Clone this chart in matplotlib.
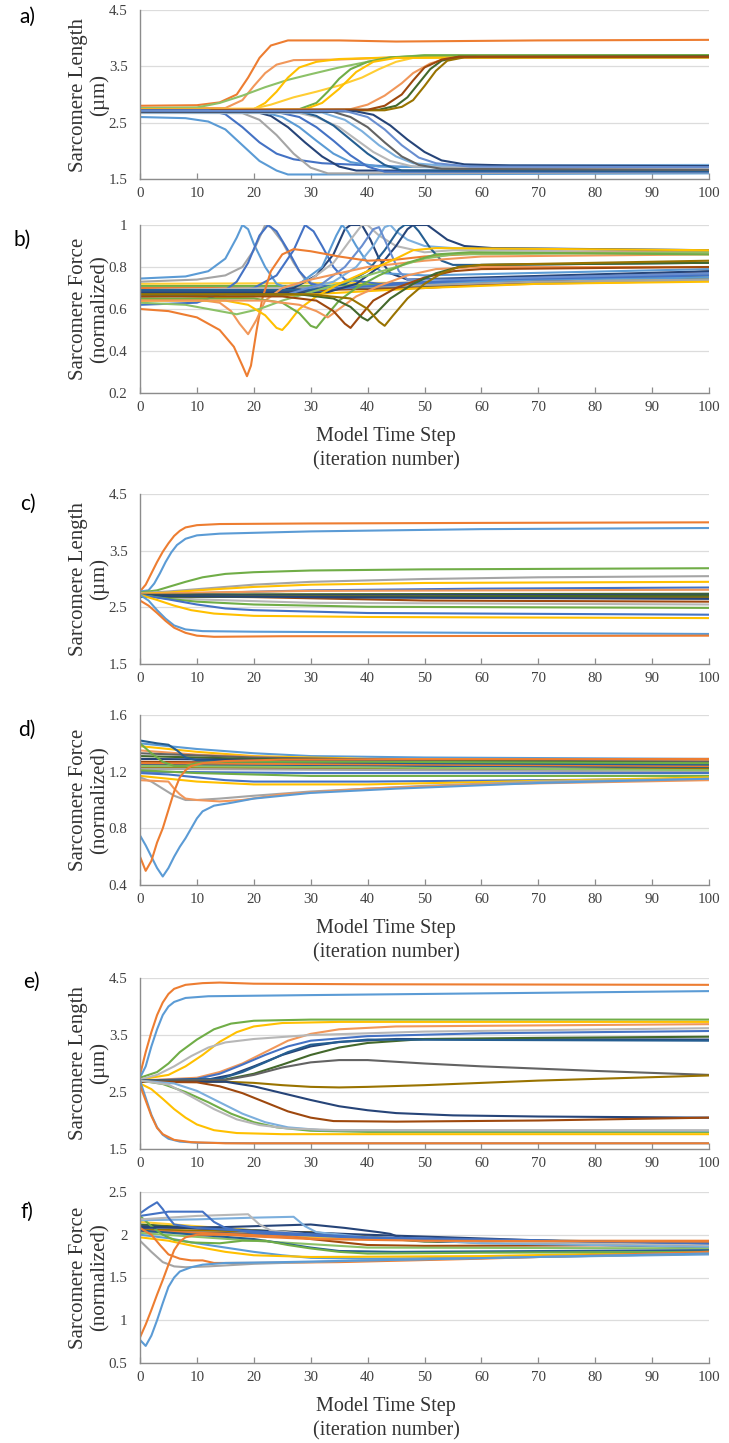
"""
Sarcomere length / force traces, six stacked panels (a-f).
Values are read off the reference figure as knot points per trace.
"""
import matplotlib
matplotlib.use("Agg")
import matplotlib.pyplot as plt

# Excel-like line palette
PAL = {
    "blue": "#5B9BD5", "orange": "#ED7D31", "gray": "#A5A5A5", "gold": "#FFC000",
    "dblue": "#4472C4", "green": "#70AD47", "blue2": "#255E91", "orange2": "#9E480E",
    "gray2": "#636363", "gold2": "#997300", "navy": "#264478", "green2": "#43682B",
    "lblue": "#7CAFDD", "lorange": "#F1975A", "lgray": "#B7B7B7", "lgold": "#FFCD33",
    "ldblue": "#698ED0", "lgreen": "#8CC168",
}

X_TICKS = list(range(0, 101, 10))
LEN_TICKS = [1.5, 2.5, 3.5, 4.5]

# ---- a) sarcomere length, slow transitions
A_LINES = [
    [(0, 2.80), (10, 2.81), (14, 2.86), (17, 3.0), (19, 3.3), (21, 3.65), (23, 3.87), (26, 3.96), (35, 3.96), (45, 3.94), (70, 3.96), (100, 3.97)],
    [(0, 2.76), (15, 2.76), (18, 2.9), (20, 3.15), (22, 3.38), (24, 3.53), (27, 3.61), (35, 3.62), (45, 3.66), (55, 3.67), (100, 3.67)],
    [(0, 2.76), (10, 2.77), (14, 2.85), (18, 2.98), (22, 3.13), (26, 3.26), (30, 3.36), (35, 3.48), (40, 3.58), (45, 3.66), (50, 3.70), (100, 3.70)],
    [(0, 2.74), (20, 2.74), (22, 2.85), (24, 3.05), (26, 3.3), (28, 3.48), (31, 3.58), (35, 3.63), (45, 3.66), (100, 3.66)],
    [(0, 2.74), (20, 2.75), (23, 2.82), (27, 2.95), (31, 3.05), (35, 3.16), (39, 3.3), (42, 3.45), (45, 3.58), (48, 3.65), (55, 3.67), (100, 3.67)],
    [(0, 2.73), (28, 2.74), (31, 2.85), (33, 3.05), (35, 3.28), (37, 3.45), (40, 3.58), (44, 3.66), (50, 3.69), (100, 3.70)],
    [(0, 2.74), (29, 2.74), (32, 2.85), (35, 3.1), (38, 3.4), (41, 3.58), (45, 3.65), (100, 3.66)],
    [(0, 2.73), (37, 2.74), (40, 2.82), (43, 2.98), (46, 3.2), (48, 3.38), (51, 3.55), (54, 3.64), (60, 3.67), (100, 3.67)],
    [(0, 2.72), (42, 2.73), (45, 2.8), (47, 2.95), (49, 3.2), (51, 3.45), (53, 3.6), (56, 3.67), (100, 3.68)],
    [(0, 2.70), (43, 2.72), (46, 2.78), (48, 2.9), (50, 3.15), (52, 3.42), (54, 3.6), (57, 3.66), (100, 3.66)],
    [(0, 2.72), (40, 2.73), (43, 2.8), (46, 3.0), (48, 3.25), (50, 3.48), (53, 3.62), (56, 3.67), (100, 3.67)],
    [(0, 2.60), (8, 2.58), (12, 2.52), (15, 2.38), (18, 2.1), (21, 1.82), (24, 1.65), (26, 1.58), (30, 1.58), (100, 1.60)],
    [(0, 2.72), (12, 2.72), (15, 2.65), (18, 2.42), (21, 2.15), (24, 1.95), (27, 1.85), (32, 1.78), (45, 1.72), (100, 1.68)],
    [(0, 2.68), (18, 2.67), (21, 2.55), (24, 2.28), (27, 1.95), (30, 1.7), (33, 1.6), (40, 1.6), (100, 1.62)],
    [(0, 2.70), (20, 2.70), (23, 2.62), (26, 2.42), (29, 2.15), (32, 1.9), (35, 1.72), (38, 1.65), (100, 1.65)],
    [(0, 2.68), (22, 2.68), (25, 2.6), (28, 2.42), (31, 2.18), (34, 1.95), (37, 1.8), (42, 1.72), (60, 1.70), (100, 1.72)],
    [(0, 2.69), (24, 2.69), (28, 2.6), (31, 2.42), (34, 2.18), (37, 1.92), (40, 1.72), (43, 1.63), (100, 1.63)],
    [(0, 2.67), (28, 2.67), (31, 2.6), (35, 2.42), (38, 2.2), (41, 1.98), (44, 1.82), (48, 1.72), (100, 1.68)],
    [(0, 2.70), (28, 2.70), (31, 2.62), (34, 2.45), (37, 2.2), (40, 1.95), (43, 1.75), (46, 1.65), (100, 1.64)],
    [(0, 2.68), (32, 2.68), (36, 2.55), (39, 2.35), (42, 2.1), (45, 1.9), (48, 1.78), (53, 1.74), (100, 1.75)],
    [(0, 2.69), (34, 2.69), (37, 2.6), (40, 2.42), (43, 2.15), (46, 1.9), (49, 1.75), (53, 1.68), (100, 1.66)],
    [(0, 2.70), (38, 2.70), (41, 2.64), (44, 2.45), (47, 2.2), (50, 1.98), (53, 1.83), (57, 1.76), (65, 1.74), (100, 1.73)],
    [(0, 2.71), (36, 2.71), (40, 2.6), (43, 2.38), (46, 2.1), (49, 1.88), (52, 1.78), (58, 1.72), (100, 1.71)],
]
A_COLS = ["orange", "lorange", "lgreen", "gold", "lgold", "green", "gold", "lorange", "green2", "gold2",
          "orange2", "blue", "dblue", "gray", "navy", "blue", "dblue", "lgray", "blue2", "lblue",
          "gray2", "navy", "ldblue"]

# ---- b) sarcomere force, slow transitions
B_LINES = [
    [(0, 0.70), (30, 0.70), (50, 0.71), (100, 0.735)],
    [(0, 0.71), (30, 0.71), (50, 0.72), (100, 0.76)],
    [(0, 0.69), (50, 0.71), (100, 0.74)],
    [(0, 0.68), (30, 0.69), (60, 0.72), (100, 0.745)],
    [(0, 0.72), (50, 0.725), (100, 0.74)],
    [(0, 0.675), (50, 0.70), (100, 0.78)],
    [(0, 0.64), (30, 0.67), (50, 0.70), (70, 0.72), (100, 0.73)],
    [(0, 0.685), (40, 0.70), (100, 0.77)],
    [(0, 0.745), (8, 0.755), (12, 0.78), (15, 0.84), (17, 0.94), (18, 1.0), (19, 0.98), (20, 0.91), (22, 0.8), (24, 0.72), (27, 0.69), (35, 0.70), (50, 0.72), (70, 0.74), (100, 0.75)],
    [(0, 0.73), (10, 0.74), (15, 0.76), (18, 0.80), (20, 0.88), (22, 1.0), (23, 0.99), (25, 0.92), (27, 0.82), (29, 0.74), (32, 0.70), (45, 0.71), (70, 0.73), (100, 0.74)],
    [(0, 0.62), (10, 0.63), (14, 0.67), (17, 0.73), (19, 0.82), (21, 0.95), (22.5, 1.0), (24, 0.97), (26, 0.88), (28, 0.78), (30, 0.72), (35, 0.70), (60, 0.74), (100, 0.76)],
    [(0, 0.66), (15, 0.67), (20, 0.70), (24, 0.76), (27, 0.88), (29, 1.0), (30.5, 0.97), (32, 0.90), (34, 0.80), (36, 0.74), (42, 0.72), (70, 0.75), (100, 0.77)],
    [(0, 0.67), (20, 0.67), (27, 0.70), (31, 0.76), (34, 0.86), (36, 0.98), (37, 1.0), (39, 1.0), (40.5, 0.93), (42, 0.84), (44, 0.77), (47, 0.74), (60, 0.75), (100, 0.78)],
    [(0, 0.68), (22, 0.68), (28, 0.72), (32, 0.80), (34.5, 0.95), (35.5, 1.0), (36.5, 0.97), (38, 0.90), (40, 0.82), (43, 0.77), (50, 0.76), (100, 0.79)],
    [(0, 0.69), (25, 0.70), (30, 0.74), (34, 0.82), (37, 0.93), (39, 1.0), (40, 1.0), (42, 0.95), (45, 0.90), (50, 0.87), (55, 0.88), (100, 0.87)],
    [(0, 0.68), (28, 0.69), (34, 0.73), (38, 0.80), (41, 0.90), (43, 0.99), (44, 1.0), (45, 0.97), (47, 0.93), (50, 0.90), (55, 0.89), (100, 0.88)],
    [(0, 0.69), (30, 0.69), (36, 0.72), (40, 0.78), (43, 0.88), (45.5, 0.98), (46.5, 1.0), (48, 1.0), (49, 0.97), (51, 0.89), (53, 0.83), (55, 0.81), (60, 0.81), (100, 0.82)],
    [(0, 0.68), (33, 0.68), (38, 0.72), (42, 0.80), (45, 0.90), (47, 0.98), (48, 1.0), (50.5, 1.0), (52, 0.97), (54, 0.93), (57, 0.90), (62, 0.89), (100, 0.88)],
    [(0, 0.67), (26, 0.67), (32, 0.72), (36, 0.80), (39, 0.90), (41, 0.98), (42, 0.99), (43.5, 0.90), (45.5, 0.78), (47, 0.74), (55, 0.74), (100, 0.77)],
    [(0, 0.60), (5, 0.59), (10, 0.56), (14, 0.50), (16.5, 0.42), (18, 0.33), (18.8, 0.28), (19.5, 0.33), (20.5, 0.50), (21.5, 0.65), (23, 0.78), (25, 0.86), (27, 0.885), (30, 0.875), (35, 0.85), (40, 0.83), (45, 0.835), (50, 0.85), (60, 0.865), (100, 0.87)],
    [(0, 0.65), (10, 0.645), (14, 0.63), (16, 0.59), (17.5, 0.53), (19, 0.48), (20.5, 0.55), (22, 0.64), (25, 0.70), (30, 0.74), (40, 0.80), (50, 0.83), (60, 0.85), (100, 0.86)],
    [(0, 0.63), (8, 0.62), (12, 0.60), (17, 0.575), (21, 0.60), (25, 0.64), (30, 0.68), (35, 0.72), (40, 0.76), (45, 0.80), (50, 0.84), (55, 0.86), (100, 0.87)],
    [(0, 0.64), (15, 0.64), (19, 0.62), (22, 0.57), (24, 0.51), (25, 0.50), (26, 0.53), (28, 0.60), (31, 0.66), (35, 0.72), (40, 0.78), (45, 0.84), (48, 0.88), (52, 0.89), (100, 0.88)],
    [(0, 0.65), (20, 0.65), (25, 0.63), (28, 0.58), (30, 0.52), (31, 0.51), (32.5, 0.56), (35, 0.64), (38, 0.70), (42, 0.76), (47, 0.82), (52, 0.86), (58, 0.87), (100, 0.86)],
    [(0, 0.64), (22, 0.64), (28, 0.62), (31, 0.59), (33, 0.56), (35, 0.60), (38, 0.66), (42, 0.71), (47, 0.76), (52, 0.79), (60, 0.80), (100, 0.80)],
    [(0, 0.66), (25, 0.66), (31, 0.64), (34, 0.59), (36, 0.53), (37, 0.51), (38.5, 0.56), (41, 0.64), (45, 0.70), (50, 0.75), (55, 0.78), (60, 0.79), (100, 0.80)],
    [(0, 0.67), (28, 0.67), (34, 0.65), (37, 0.61), (39, 0.56), (40, 0.545), (41.5, 0.58), (44, 0.65), (48, 0.72), (52, 0.77), (56, 0.80), (60, 0.81), (100, 0.82)],
    [(0, 0.67), (30, 0.67), (37, 0.65), (40, 0.60), (42, 0.54), (43, 0.52), (44.5, 0.57), (47, 0.65), (50, 0.72), (53, 0.77), (56, 0.80), (60, 0.81), (100, 0.83)],
]
B_COLS = ["orange", "green", "gray", "green2", "lgold", "orange2", "gold", "gray2",
          "blue", "gray", "dblue", "dblue", "navy", "blue", "lgray", "lblue", "blue2", "navy", "ldblue",
          "orange", "lorange", "lgreen", "gold", "green", "lorange", "orange2", "green2", "gold2"]

# ---- c) sarcomere length, fast settling
C_LINES = [
    [(0, 2.78), (1, 2.9), (2, 3.1), (3, 3.3), (4, 3.48), (5, 3.63), (6, 3.76), (7, 3.85), (8, 3.91), (10, 3.95), (14, 3.97), (30, 3.98), (60, 3.99), (100, 4.0)],
    [(0, 2.78), (1.5, 2.8), (2.5, 2.92), (3.5, 3.1), (4.5, 3.3), (5.5, 3.47), (6.5, 3.6), (8, 3.71), (10, 3.77), (14, 3.8), (30, 3.84), (60, 3.88), (100, 3.9)],
    [(0, 2.76), (3, 2.8), (5, 2.86), (8, 2.95), (11, 3.03), (15, 3.09), (20, 3.12), (30, 3.15), (50, 3.17), (100, 3.19)],
    [(0, 2.75), (5, 2.78), (10, 2.82), (20, 2.9), (30, 2.95), (50, 3.0), (70, 3.03), (100, 3.05)],
    [(0, 2.74), (5, 2.76), (10, 2.8), (20, 2.86), (30, 2.9), (50, 2.93), (100, 2.95)],
    [(0, 2.72), (10, 2.75), (30, 2.8), (60, 2.83), (100, 2.85)],
    [(0, 2.73), (10, 2.76), (30, 2.79), (100, 2.81)],
    [(0, 2.72), (20, 2.73), (100, 2.74)],
    [(0, 2.71), (20, 2.71), (100, 2.72)],
    [(0, 2.70), (20, 2.68), (50, 2.62), (100, 2.60)],
    [(0, 2.70), (100, 2.70)],
    [(0, 2.70), (30, 2.68), (100, 2.66)],
    [(0, 2.70), (10, 2.64), (30, 2.58), (100, 2.55)],
    [(0, 2.69), (100, 2.68)],
    [(0, 2.69), (50, 2.69), (100, 2.71)],
    [(0, 2.70), (50, 2.67), (100, 2.65)],
    [(0, 2.72), (5, 2.65), (10, 2.6), (20, 2.55), (40, 2.51), (100, 2.49)],
    [(0, 2.72), (5, 2.64), (10, 2.55), (15, 2.48), (20, 2.45), (40, 2.4), (100, 2.37)],
    [(0, 2.72), (3, 2.63), (6, 2.53), (9, 2.45), (13, 2.39), (20, 2.35), (40, 2.33), (100, 2.31)],
    [(0, 2.72), (1.5, 2.62), (3, 2.45), (4.5, 2.3), (6, 2.18), (8, 2.11), (11, 2.08), (20, 2.07), (60, 2.05), (100, 2.03)],
    [(0, 2.62), (1.5, 2.53), (3, 2.4), (4.5, 2.26), (6, 2.14), (8, 2.05), (10, 2.0), (13, 1.98), (25, 1.99), (100, 2.0)],
]
C_COLS = ["orange", "blue", "green", "gray", "gold", "dblue", "lorange", "green2", "navy", "orange2",
          "gray2", "blue2", "lgray", "gold2", "green2", "navy", "green", "dblue", "gold", "blue", "orange"]

# ---- d) sarcomere force, fast settling
D_LINES = [
    [(0, 1.40), (10, 1.36), (20, 1.33), (30, 1.31), (50, 1.30), (100, 1.29)],
    [(0, 1.38), (10, 1.34), (20, 1.31), (40, 1.29), (100, 1.28)],
    [(0, 1.35), (10, 1.32), (30, 1.29), (100, 1.28)],
    [(0, 1.33), (20, 1.30), (50, 1.28), (100, 1.27)],
    [(0, 1.31), (20, 1.29), (100, 1.26)],
    [(0, 1.27), (30, 1.26), (100, 1.24)],
    [(0, 1.29), (30, 1.28), (100, 1.25)],
    [(0, 1.25), (100, 1.23)],
    [(0, 1.23), (50, 1.22), (100, 1.22)],
    [(0, 1.26), (50, 1.25), (100, 1.24)],
    [(0, 1.22), (50, 1.21), (100, 1.20)],
    [(0, 1.20), (30, 1.19), (100, 1.19)],
    [(0, 1.24), (40, 1.23), (100, 1.21)],
    [(0, 1.21), (10, 1.19), (30, 1.17), (100, 1.17)],
    [(0, 1.19), (5, 1.18), (10, 1.16), (15, 1.14), (20, 1.13), (40, 1.13), (100, 1.15)],
    [(0, 1.17), (10, 1.13), (20, 1.11), (40, 1.11), (100, 1.16)],
    [(0, 1.42), (3, 1.40), (5, 1.39), (6.5, 1.35), (8, 1.30), (10, 1.28), (20, 1.27), (50, 1.26), (100, 1.25)],
    [(0, 1.40), (2, 1.33), (4, 1.27), (6, 1.24), (8, 1.24), (10, 1.26), (15, 1.27), (40, 1.27), (100, 1.26)],
    [(0, 1.16), (2, 1.13), (4, 1.08), (6, 1.03), (8, 1.0), (10, 1.0), (14, 1.01), (20, 1.03), (30, 1.06), (50, 1.10), (70, 1.13), (100, 1.15)],
    [(0, 1.14), (5, 1.13), (6, 1.08), (7, 1.04), (8, 1.01), (10, 1.0), (14, 0.99), (18, 1.0), (25, 1.04), (40, 1.08), (60, 1.11), (100, 1.14)],
    [(0, 0.75), (1, 0.68), (2, 0.60), (3, 0.52), (4, 0.46), (5, 0.52), (6, 0.60), (7, 0.67), (8, 0.73), (9, 0.80), (10, 0.87), (11, 0.92), (13, 0.96), (16, 0.98), (20, 1.01), (30, 1.05), (45, 1.08), (70, 1.12), (100, 1.15)],
    [(0, 0.60), (1, 0.50), (2, 0.57), (3, 0.70), (4, 0.80), (5, 0.93), (6, 1.06), (7, 1.16), (8, 1.21), (9, 1.24), (11, 1.26), (15, 1.275), (25, 1.285), (100, 1.29)],
]
D_COLS = ["blue", "gold", "lorange", "gray2", "green2", "orange2", "navy", "blue2", "gold2", "orange",
          "gray", "dblue", "lgreen", "green", "dblue", "gold", "blue2", "green", "gray", "lorange", "blue", "orange"]

# ---- e) sarcomere length, mixed settling
E_LINES = [
    [(0, 2.80), (1, 3.2), (2, 3.55), (3, 3.85), (4, 4.07), (5, 4.22), (6, 4.31), (8, 4.38), (11, 4.41), (14, 4.42), (20, 4.40), (40, 4.39), (100, 4.38)],
    [(0, 2.75), (1, 2.95), (2, 3.3), (3, 3.6), (4, 3.85), (5, 4.0), (6, 4.08), (8, 4.15), (12, 4.18), (30, 4.2), (60, 4.23), (100, 4.27)],
    [(0, 2.75), (3, 2.85), (5, 3.0), (7, 3.2), (10, 3.42), (13, 3.6), (16, 3.7), (20, 3.75), (30, 3.77), (100, 3.77)],
    [(0, 2.72), (5, 2.8), (8, 2.95), (11, 3.15), (14, 3.38), (17, 3.55), (20, 3.65), (25, 3.71), (35, 3.73), (100, 3.73)],
    [(0, 2.70), (10, 2.75), (14, 2.85), (18, 3.0), (22, 3.2), (26, 3.4), (30, 3.52), (35, 3.6), (45, 3.65), (100, 3.69)],
    [(0, 2.72), (3, 2.8), (6, 2.95), (9, 3.13), (12, 3.28), (15, 3.37), (20, 3.43), (30, 3.5), (50, 3.56), (100, 3.62)],
    [(0, 2.70), (10, 2.73), (14, 2.82), (18, 2.98), (22, 3.15), (26, 3.3), (30, 3.4), (40, 3.48), (60, 3.53), (100, 3.57)],
    [(0, 2.70), (12, 2.72), (16, 2.8), (20, 2.95), (25, 3.15), (30, 3.3), (35, 3.38), (45, 3.43), (100, 3.42)],
    [(0, 2.70), (15, 2.72), (20, 2.82), (25, 2.98), (30, 3.15), (35, 3.28), (40, 3.36), (50, 3.43), (70, 3.45), (100, 3.47)],
    [(0, 2.70), (14, 2.73), (18, 2.85), (22, 3.02), (26, 3.2), (30, 3.33), (40, 3.42), (100, 3.40)],
    [(0, 2.70), (15, 2.71), (20, 2.8), (25, 2.93), (30, 3.02), (35, 3.06), (40, 3.06), (50, 3.0), (60, 2.95), (80, 2.87), (100, 2.80)],
    [(0, 2.68), (15, 2.68), (20, 2.66), (25, 2.62), (30, 2.59), (35, 2.58), (40, 2.59), (50, 2.62), (70, 2.7), (100, 2.79)],
    [(0, 2.68), (15, 2.68), (20, 2.6), (25, 2.48), (30, 2.36), (35, 2.25), (40, 2.18), (45, 2.13), (55, 2.09), (70, 2.07), (100, 2.05)],
    [(0, 2.68), (10, 2.67), (14, 2.6), (18, 2.48), (22, 2.32), (26, 2.16), (30, 2.05), (34, 1.99), (45, 1.98), (70, 2.0), (100, 2.05)],
    [(0, 2.70), (4, 2.64), (8, 2.5), (12, 2.32), (16, 2.12), (20, 1.97), (24, 1.88), (30, 1.82), (40, 1.8), (100, 1.80)],
    [(0, 2.70), (6, 2.65), (10, 2.52), (14, 2.32), (18, 2.12), (22, 1.97), (26, 1.88), (32, 1.83), (100, 1.82)],
    [(0, 2.70), (5, 2.63), (9, 2.42), (13, 2.2), (17, 2.02), (21, 1.92), (26, 1.86), (35, 1.83), (100, 1.83)],
    [(0, 2.65), (2, 2.55), (4, 2.38), (6, 2.2), (8, 2.05), (10, 1.93), (13, 1.83), (17, 1.78), (25, 1.76), (100, 1.76)],
    [(0, 2.70), (1, 2.4), (2, 2.1), (3, 1.88), (4, 1.75), (5, 1.68), (7, 1.63), (10, 1.61), (20, 1.6), (100, 1.60)],
    [(0, 2.62), (1, 2.35), (2, 2.08), (3, 1.87), (4, 1.76), (6, 1.66), (9, 1.62), (15, 1.6), (100, 1.60)],
]
E_COLS = ["orange", "blue", "green", "gold", "lorange", "lgray", "dblue", "navy", "green2", "blue2",
          "gray2", "gold2", "navy", "orange2", "green", "lblue", "lgray", "gold", "blue", "orange"]

# ---- f) sarcomere force, mixed settling
F_LINES = [
    [(0, 2.10), (20, 2.05), (30, 1.95), (40, 1.88), (50, 1.87), (100, 1.88)],
    [(0, 2.12), (30, 2.02), (50, 1.92), (100, 1.88)],
    [(0, 2.06), (30, 2.03), (50, 1.93), (100, 1.87)],
    [(0, 2.04), (30, 2.0), (50, 1.93), (100, 1.85)],
    [(0, 2.05), (30, 1.97), (60, 1.93), (100, 1.93)],
    [(0, 2.15), (10, 2.1), (20, 2.05), (30, 1.98), (45, 1.95), (100, 1.91)],
    [(0, 2.02), (20, 1.93), (40, 1.85), (100, 1.84)],
    [(0, 2.10), (40, 2.0), (100, 1.87)],
    [(0, 2.05), (10, 2.0), (20, 1.95), (30, 1.85), (35, 1.81), (45, 1.8), (100, 1.82)],
    [(0, 2.00), (5, 1.96), (10, 1.9), (15, 1.85), (20, 1.8), (25, 1.76), (30, 1.73), (40, 1.72), (70, 1.74), (100, 1.77)],
    [(0, 1.97), (5, 1.93), (10, 1.86), (15, 1.8), (20, 1.76), (30, 1.74), (60, 1.75), (100, 1.80)],
    [(0, 2.22), (2, 2.1), (4, 2.0), (6, 1.94), (9, 1.91), (14, 1.9), (18, 1.93), (22, 1.93), (26, 1.88), (30, 1.84), (35, 1.8), (40, 1.78), (60, 1.79), (100, 1.80)],
    [(0, 2.08), (15, 2.09), (25, 2.11), (30, 2.12), (36, 2.08), (42, 2.03), (44, 2.01), (46, 1.96), (50, 1.93), (60, 1.91), (100, 1.90)],
    [(0, 2.17), (10, 2.18), (20, 2.2), (27, 2.21), (29, 2.1), (31, 2.03), (40, 1.97), (60, 1.9), (100, 1.86)],
    [(0, 2.18), (5, 2.2), (10, 2.22), (19, 2.24), (21, 2.12), (23, 2.05), (30, 2.0), (50, 1.93), (100, 1.88)],
    [(0, 2.22), (3, 2.25), (5, 2.27), (11, 2.27), (13, 2.15), (15, 2.08), (20, 2.02), (40, 1.96), (100, 1.90)],
    [(0, 2.25), (1.5, 2.32), (3, 2.38), (4, 2.3), (5, 2.2), (6, 2.12), (10, 2.08), (20, 2.04), (40, 1.97), (100, 1.90)],
    [(0, 2.08), (2, 2.0), (3.5, 1.88), (5, 1.77), (7, 1.72), (9, 1.7), (11, 1.7), (13, 1.67), (20, 1.67), (35, 1.68), (60, 1.72), (100, 1.80)],
    [(0, 1.93), (2, 1.8), (4, 1.68), (6, 1.63), (8, 1.62), (12, 1.63), (20, 1.66), (40, 1.7), (70, 1.74), (100, 1.78)],
    [(0, 0.77), (1, 0.70), (2, 0.82), (3, 1.0), (4, 1.2), (5, 1.39), (6, 1.5), (7, 1.57), (9, 1.62), (11, 1.65), (15, 1.67), (25, 1.68), (40, 1.7), (70, 1.74), (100, 1.78)],
    [(0, 0.80), (1, 0.95), (2, 1.12), (3, 1.3), (4, 1.47), (5, 1.65), (6, 1.82), (7, 1.92), (8, 1.97), (10, 2.0), (15, 2.0), (20, 1.98), (30, 1.95), (50, 1.93), (100, 1.92)],
]
F_COLS = ["orange2", "green2", "gold2", "gray2", "orange", "lgold", "lgreen", "navy", "blue2", "blue",
          "gold", "green", "navy", "lblue", "lgray", "dblue", "dblue", "orange", "gray", "blue", "orange"]

# panel specs: (letter, lines, colours, ylim, yticks, tick labels, ylabel, top px, bottom px, xlabel?)
LEN_LABEL = "Sarcomere Length\n(\u00b5m)"
FRC_LABEL = "Sarcomere Force\n(normalized)"
PANELS = [
    ("a)", A_LINES, A_COLS, (1.5, 4.5), LEN_TICKS, ["1.5", "2.5", "3.5", "4.5"], LEN_LABEL, 10, 179, False),
    ("b)", B_LINES, B_COLS, (0.2, 1.0), [0.2, 0.4, 0.6, 0.8, 1.0], ["0.2", "0.4", "0.6", "0.8", "1"], FRC_LABEL, 225, 393, True),
    ("c)", C_LINES, C_COLS, (1.5, 4.5), LEN_TICKS, ["1.5", "2.5", "3.5", "4.5"], LEN_LABEL, 494, 664, False),
    ("d)", D_LINES, D_COLS, (0.4, 1.6), [0.4, 0.8, 1.2, 1.6], ["0.4", "0.8", "1.2", "1.6"], FRC_LABEL, 715, 885, True),
    ("e)", E_LINES, E_COLS, (1.5, 4.5), LEN_TICKS, ["1.5", "2.5", "3.5", "4.5"], LEN_LABEL, 978, 1149, False),
    ("f)", F_LINES, F_COLS, (0.5, 2.5), [0.5, 1.0, 1.5, 2.0, 2.5], ["0.5", "1", "1.5", "2", "2.5"], FRC_LABEL, 1192, 1363, True),
]
LETTER_POS = [(27, 17), (22, 240), (28, 504), (27, 730), (31, 982), (27, 1212)]

W, H = 729, 1443
SERIF = "Liberation Serif"
AX_LEFT, AX_RIGHT = 140, 709

fig = plt.figure(figsize=(W / 100, H / 100), dpi=100)

for (letter, lines, cols, ylim, yt, ytl, ylab, top, bot, xlab), (lx, ly) in zip(PANELS, LETTER_POS):
    ax = fig.add_axes([AX_LEFT / W, 1 - bot / H, (AX_RIGHT - AX_LEFT) / W, (bot - top) / H])
    for pts, c in zip(lines, cols):
        xs = [p[0] for p in pts]
        ys = [p[1] for p in pts]
        ax.plot(xs, ys, color=PAL[c], lw=1.5, solid_joinstyle="round", solid_capstyle="round")

    ax.set_xlim(0, 100)
    ax.set_ylim(*ylim)
    ax.set_xticks(X_TICKS)
    ax.set_xticklabels([str(v) for v in X_TICKS], fontfamily=SERIF, fontsize=10.8, color="#404040")
    ax.set_yticks(yt)
    ax.set_yticklabels(ytl, fontfamily=SERIF, fontsize=10.8, color="#404040")
    ax.yaxis.grid(True, color="#DCDCDC", lw=0.9)
    ax.set_axisbelow(True)
    for s in ("top", "right"):
        ax.spines[s].set_visible(False)
    for s in ("left", "bottom"):
        ax.spines[s].set_color("#8C8C8C")
        ax.spines[s].set_linewidth(1.0)
    ax.tick_params(axis="x", direction="in", length=4, width=0.9, color="#8C8C8C", pad=6)
    ax.tick_params(axis="y", length=0, pad=9)

    fig.text(89 / W, 1 - (top + bot) / 2 / H, ylab, rotation=90, ha="center", va="center",
             fontfamily=SERIF, fontsize=15, color="#333333", multialignment="center", linespacing=1.15)
    fig.text(lx / W, 1 - ly / H, letter, ha="center", va="center", fontfamily="Lato", fontsize=15, color="black")

    if xlab:
        fig.text(386 / W, 1 - (bot + 44) / H, "Model Time Step", ha="center", va="center",
                 fontfamily=SERIF, fontsize=14.5, color="#333333")
        fig.text(386 / W, 1 - (bot + 68) / H, "(iteration number)", ha="center", va="center",
                 fontfamily=SERIF, fontsize=14.5, color="#333333")

fig.savefig("out.png", dpi=100)
